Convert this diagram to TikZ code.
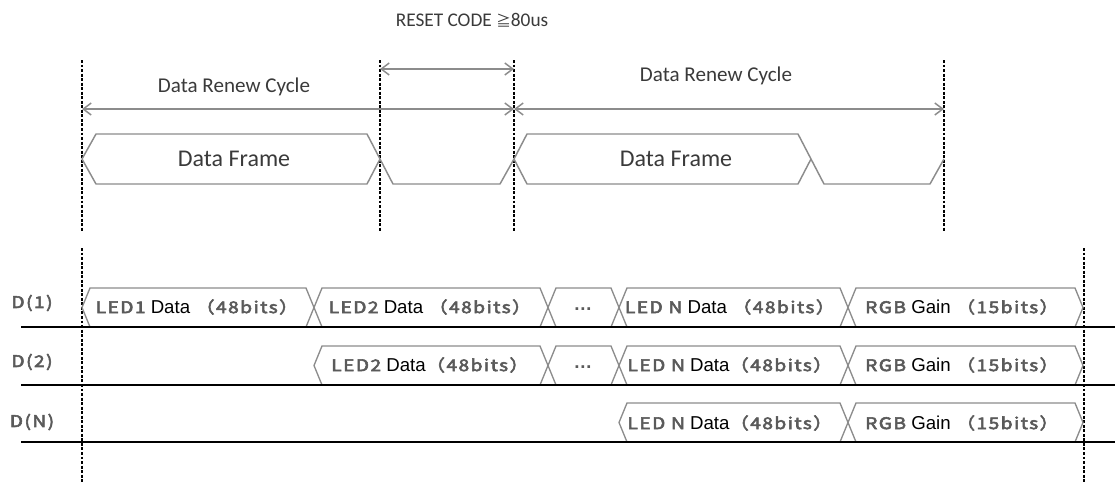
\documentclass[tikz,border=0pt]{standalone}
\usepackage{fontspec}
\usepackage{xcolor}
\setmainfont{Liberation Sans}
\newfontfamily\calib{Carlito}
\newfontfamily\cjk[FakeStretch=1.2,LetterSpace=9,AutoFakeBold=3.5]{Noto Sans CJK SC}
\newfontfamily\cjkdots{Noto Sans CJK SC}
\usetikzlibrary{arrows.meta,positioning}

\definecolor{lnGray}{HTML}{8C8C8C}
\definecolor{txtGray}{HTML}{5A5A5A}
\definecolor{capGray}{HTML}{3A3A3A}
\newcommand{\gr}[1]{{\cjk\bfseries\fontsize{12}{14}\selectfont\color{txtGray}#1}}

\begin{document}
\begin{tikzpicture}[x=0.75pt,y=-0.75pt,
  dashln/.style={black,line width=1.6pt,dash pattern=on 2.2pt off 1.2pt},
  frame/.style={lnGray,line width=1.1pt,line join=round},
  bus/.style={lnGray,line width=1pt,fill=white},
  busln/.style={black,line width=1.8pt},
  dimarr/.style={lnGray,line width=1.1pt,{Straight Barb[length=6pt,width=9pt]}-{Straight Barb[length=6pt,width=9pt]}},
  captxt/.style={text=capGray,font=\calib\fontsize{15.8}{17}\selectfont,inner sep=0pt},
  bustxt/.style={font=\fontsize{14}{16}\selectfont,inner sep=0pt},
  rowlbl/.style={font=\cjk\bfseries\fontsize{12}{14}\selectfont,text=txtGray,inner sep=0pt}]
\useasboundingbox (0,0) rectangle (1115,482);

% Time marks
\foreach \x in {82,380,514,944}
  \draw[dashln] (\x,60) -- (\x,232);
\foreach \x in {82,1084}
  \draw[dashln] (\x,248) -- (\x,482);

% Reset code and renew cycles
\node[captxt,font=\calib\fontsize{14.5}{16}\selectfont] (reset) at (472,20) {RESET CODE {\cjkdots\fontsize{11}{12}\selectfont ≧}80us};
\coordinate (r0) at (380,69);
\coordinate (r1) at (514,69);
\draw[dimarr] (r0) -- (r1);

\node[captxt] (cyc1) at (234,87) {Data Renew Cycle};
\node[captxt] (cyc2) at (716,76) {Data Renew Cycle};
\coordinate (c0) at (82,109);
\coordinate (c1) at (514,109);
\coordinate (c2) at (944,109);
\draw[dimarr] (c0) -- (c1);
\draw[dimarr] (c1) -- (c2);

% Data frames
\draw[frame] (82,159) -- (96,134) -- (367,134) -- (380,159) -- (367,184) -- (96,184) -- cycle;
\draw[frame] (380,159) -- (393,184) -- (500,184) -- (514,159);
\draw[frame] (514,159) -- (527,134) -- (798,134) -- (811,159) -- (798,184) -- (527,184) -- cycle;
\draw[frame] (811,159) -- (824,184) -- (930,184) -- (944,159);
\node[captxt,font=\calib\fontsize{18}{20}\selectfont] (frm1) at (234,159) {Data Frame};
\node[captxt,font=\calib\fontsize{18}{20}\selectfont] (frm2) at (676,159) {Data Frame};

% Bus segments
\foreach \y/\a/\b in {327/82/314,327/314/548,327/548/619,327/619/848,327/848/1083,
                      385/314/548,385/548/619,385/619/848,385/848/1083,
                      442/619/848,442/848/1083}
  \draw[bus] (\a,{\y-19.5}) -- ({\a+8},{\y-39}) -- ({\b-8},{\y-39}) -- (\b,{\y-19.5})
             -- ({\b-8},\y) -- ({\a+8},\y) -- cycle;

% Bus lines
\foreach \y in {327,385,442}
  \draw[busln] (21,\y) -- (1115,\y);

\node[rowlbl] (d1) at (32,303) {D(1)};
\node[rowlbl] (d2) at (32,362) {D(2)};
\node[rowlbl] (dn) at (32,422) {D(N)};

% D(1)
\node[bustxt] (d1a) at (197,307) {\gr{LED1} Data \gr{（48bits）}};
\node[bustxt] (d1b) at (430,307) {\gr{LED2} Data \gr{（48bits）}};
\node[bustxt] (d1c) at (583,309) {\textcolor{txtGray}{\bfseries …}};
\node[bustxt] (d1d) at (730,307) {\gr{LED N} Data \gr{（48bits）}};
\node[bustxt] (d1e) at (962,307) {\gr{RGB} Gain \gr{（15bits）}};

% D(2)
\node[bustxt] (d2b) at (430,365) {\gr{LED2} Data\gr{（48bits）}};
\node[bustxt] (d2c) at (583,367) {\textcolor{txtGray}{\bfseries …}};
\node[bustxt] (d2d) at (730,365) {\gr{LED N} Data\gr{（48bits）}};
\node[bustxt] (d2e) at (962,365) {\gr{RGB} Gain \gr{（15bits）}};

% D(N)
\node[bustxt] (dnd) at (730,423) {\gr{LED N} Data\gr{（48bits）}};
\node[bustxt] (dne) at (962,423) {\gr{RGB} Gain \gr{（15bits）}};
\end{tikzpicture}
\end{document}
